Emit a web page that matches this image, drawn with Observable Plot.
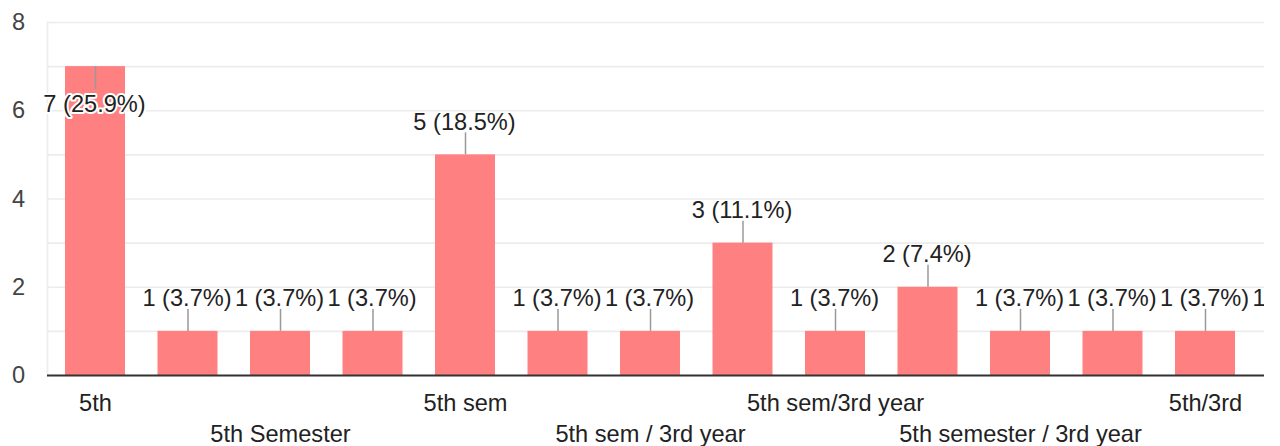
<!DOCTYPE html>
<html>
<head>
<meta charset="utf-8">
<script src="https://cdn.jsdelivr.net/npm/d3@7"></script>
<script src="https://cdn.jsdelivr.net/npm/@observablehq/plot@0.6"></script>
<style>
  html, body { margin: 0; padding: 0; background: #fff; }
  #chart { width: 1280px; height: 446px; overflow: hidden; }
  #chart svg { overflow: hidden; }
</style>
</head>
<body>
<div id="chart"></div>
<script>
// Answer categories (only some labels fit on the axis in the original)
const categories = [
  "5th", "5th Sem", "5th Semester", "5th semester", "5th sem",
  "5th Sem / 3rd Year", "5th sem / 3rd year", "5th Sem/3rd Year", "5th sem/3rd year",
  "5th semester 3rd year", "5th semester / 3rd year", "5th Semester / 3rd Year",
  "5th/3rd", "V semester"
];
const counts = [7, 1, 1, 1, 5, 1, 1, 3, 1, 2, 1, 1, 1, 1];
const tickLabels = ["5th", "5th Semester", "5th sem", "5th sem / 3rd year", "5th sem/3rd year", "5th semester / 3rd year", "5th/3rd"];
const yTicks = [0, 2, 4, 6, 8];
const gridTicks = [0, 1, 2, 3, 4, 5, 6, 7, 8];

const total = d3.sum(counts);
const data = categories.map((c, i) => ({
  cat: c,
  value: counts[i],
  label: `${counts[i]} (${(counts[i] / total * 100).toFixed(1)}%)`
}));
const maxVal = d3.max(counts);
const above = data.filter(d => d.value !== maxVal);
const inside = data.filter(d => d.value === maxVal);
const ticks = tickLabels.map((t, i) => ({cat: t, row: i % 2}));

const font = "'Liberation Sans', Arial, sans-serif";
const fs = 23.6;

const chart = Plot.plot({
  width: 1264,
  height: 446,
  marginLeft: 47,
  marginRight: 0,
  marginTop: 22,
  marginBottom: 71,
  style: {fontFamily: font, fontSize: fs + "px", background: "#fff", overflow: "hidden"},
  x: {domain: categories, range: [32.5, 1360], padding: 0.3514, round: false, axis: null},
  y: {domain: [0, 8], axis: null},
  marks: [
    Plot.gridY(gridTicks, {stroke: "#ececec", strokeOpacity: 1, strokeWidth: 1.6}),
    Plot.frame({anchor: "left", stroke: "#ececec", strokeWidth: 1.6}),
    Plot.axisY(yTicks, {tickSize: 0, tickPadding: 22.5, fontSize: fs, fill: "#444", label: null}),
    Plot.barY(data, {x: "cat", y: "value", fill: "#ff8080"}),
    Plot.ruleY([0], {stroke: "#333", strokeWidth: 2}),
    // leader stems
    Plot.ruleX(above, {x: "cat", y1: "value", y2: "value", insetTop: -22, insetBottom: 0, stroke: "#999", strokeWidth: 1.5}),
    Plot.ruleX(inside, {x: "cat", y1: "value", y2: "value", insetTop: 0, insetBottom: -23, stroke: "#999", strokeWidth: 1.5}),
    // annotations
    Plot.text(above, {x: "cat", y: "value", text: "label", dy: -25, dx: -1, lineAnchor: "bottom", fill: "#222", fontSize: fs}),
    Plot.text(inside, {x: "cat", y: "value", text: "label", dy: 45, dx: -1, lineAnchor: "bottom", fill: "#222", stroke: "#fff", strokeWidth: 4, fontSize: fs}),
    // category labels (two staggered rows)
    Plot.text(ticks.filter(d => d.row === 0), {x: "cat", text: "cat", frameAnchor: "bottom", dy: 35, lineAnchor: "bottom", fill: "#222", fontSize: fs}),
    Plot.text(ticks.filter(d => d.row === 1), {x: "cat", text: "cat", frameAnchor: "bottom", dy: 66, lineAnchor: "bottom", fill: "#222", fontSize: fs})
  ]
});
document.getElementById("chart").appendChild(chart);
</script>
</body>
</html>
